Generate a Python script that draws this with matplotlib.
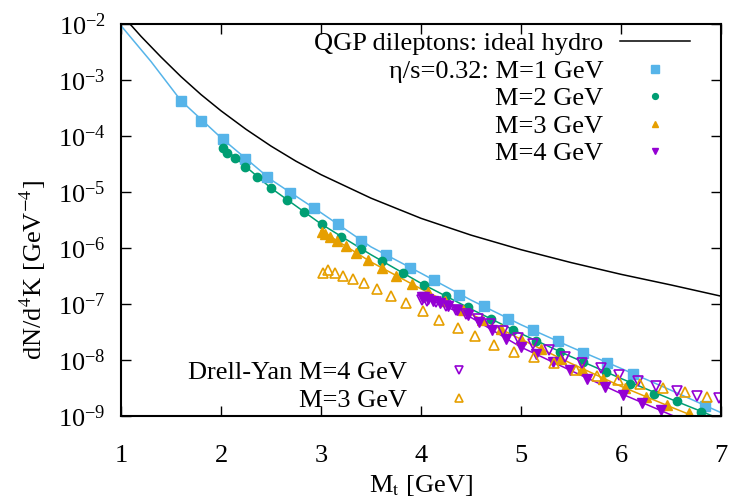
import numpy as np
import matplotlib
matplotlib.use("Agg")
import matplotlib.pyplot as plt
from matplotlib.ticker import NullLocator, FixedLocator

plt.rcParams['font.family'] = ['Liberation Serif', 'DejaVu Serif']
plt.rcParams['mathtext.fontset'] = 'stix'

# ---------------------------------------------------------------
# Data (log10 of dN/d^4K)
# ---------------------------------------------------------------
# ideal hydro QGP dileptons (black curve)
mt_ideal = [1.0, 1.2, 1.4, 1.6, 1.8, 2.0, 2.25, 2.5, 2.75, 3.0, 3.5, 4.0, 4.5, 5.0, 5.5, 6.0, 6.5, 7.0]
lg_ideal = [-1.82, -2.22, -2.59, -2.94, -3.26, -3.55, -3.88, -4.18, -4.45, -4.69, -5.11, -5.47,
            -5.77, -6.03, -6.26, -6.47, -6.66, -6.86]

# eta/s = 0.32 curves
mt_line1 = [1.0, 1.3, 1.6, 2.0, 2.5, 3.0, 3.5, 4.0, 4.5, 5.0, 5.5, 6.0, 6.5, 7.0]
lg_line1 = [-2.03, -2.67, -3.37, -4.03, -4.78, -5.37, -5.98, -6.45, -6.93, -7.37, -7.77, -8.15, -8.54, -8.94]
mt_line2 = [2.0, 2.5, 3.0, 3.5, 4.0, 4.5, 5.0, 5.5, 6.0, 6.5, 7.0]
lg_line2 = [-4.17, -4.93, -5.57, -6.12, -6.63, -7.09, -7.53, -7.94, -8.33, -8.70, -9.06]
mt_line3 = [3.0, 3.5, 4.0, 4.5, 5.0, 5.5, 6.0, 6.5, 7.0]
lg_line3 = [-5.69, -6.25, -6.73, -7.18, -7.63, -8.06, -8.47, -8.84, -9.2]
mt_line4 = [4.0, 4.5, 5.0, 5.5, 6.0, 6.5, 7.0]
lg_line4 = [-6.86, -7.24, -7.77, -8.19, -8.60, -8.98, -9.35]

# eta/s = 0.32 points
mt_m1 = [1.60, 1.80, 2.02, 2.24, 2.46, 2.69, 2.93, 3.17, 3.40, 3.65, 3.89, 4.13, 4.38, 4.63,
         4.87, 5.12, 5.37, 5.62, 5.86, 6.12, 6.84]
lg_m1 = [-3.37, -3.73, -4.05, -4.41, -4.73, -5.02, -5.29, -5.57, -5.87, -6.13, -6.36, -6.57, -6.84,
         -7.04, -7.27, -7.46, -7.66, -7.88, -8.05, -8.25, -8.82]

mt_m2 = [2.02, 2.06, 2.14, 2.24, 2.36, 2.50, 2.66, 2.83, 3.01, 3.20, 3.40, 3.61, 3.82, 4.03, 4.25,
         4.47, 4.70, 4.92, 5.15, 5.39, 5.62, 5.85, 6.09, 6.33, 6.56, 6.80]
lg_m2 = [-4.21, -4.30, -4.40, -4.55, -4.73, -4.93, -5.14, -5.36, -5.58, -5.80, -6.02, -6.23, -6.45,
         -6.66, -6.86, -7.06, -7.27, -7.46, -7.66, -7.85, -8.03, -8.21, -8.42, -8.61, -8.74, -8.92]

mt_m3 = [3.01, 3.04, 3.09, 3.16, 3.25, 3.35, 3.47, 3.61, 3.75, 3.91, 4.07, 4.24, 4.42, 4.61, 4.80,
         5.00, 5.20, 5.40, 5.61, 5.82, 6.04, 6.25, 6.46, 6.68]
lg_m3 = [-5.71, -5.75, -5.80, -5.87, -5.96, -6.09, -6.22, -6.36, -6.50, -6.64, -6.79, -6.95, -7.11,
         -7.28, -7.45, -7.63, -7.81, -7.98, -8.16, -8.34, -8.50, -8.66, -8.81, -8.95]

mt_m4 = [4.01, 4.03, 4.07, 4.12, 4.19, 4.27, 4.36, 4.47, 4.58, 4.71, 4.85, 5.00, 5.15, 5.32, 5.49,
         5.66, 5.84, 6.02, 6.21, 6.40]
lg_m4 = [-6.87, -6.88, -6.91, -6.95, -6.99, -7.04, -7.10, -7.20, -7.32, -7.47, -7.62, -7.77, -7.90,
         -8.04, -8.18, -8.34, -8.48, -8.62, -8.76, -8.90]

# Drell-Yan
mt_dy4 = [4.01, 4.06, 4.15, 4.25, 4.35, 4.45, 4.57, 4.69, 4.82, 4.97, 5.12, 5.28, 5.44, 5.61, 5.80,
          5.98, 6.17, 6.35, 6.56, 6.76, 6.98]
lg_dy4 = [-6.92, -6.94, -6.96, -7.03, -7.11, -7.18, -7.27, -7.36, -7.48, -7.61, -7.71, -7.83, -7.95,
          -8.05, -8.15, -8.26, -8.38, -8.47, -8.56, -8.64, -8.68]

mt_dy3 = [3.02, 3.07, 3.14, 3.22, 3.32, 3.43, 3.56, 3.70, 3.85, 4.02, 4.18, 4.37, 4.54, 4.73, 4.93,
          5.13, 5.33, 5.55, 5.76, 5.97, 6.19, 6.42, 6.64, 6.86]
lg_dy3 = [-6.45, -6.40, -6.44, -6.50, -6.56, -6.63, -6.74, -6.86, -6.99, -7.13, -7.29, -7.43, -7.58,
          -7.73, -7.85, -7.95, -8.06, -8.18, -8.28, -8.36, -8.43, -8.50, -8.58, -8.66]

# gnuplot default colours
c_blue = "#56b4e9"
c_green = "#009e73"
c_orange = "#e69f00"
c_purple = "#9400d3"

FS = 19

# ---------------------------------------------------------------
# Plot
# ---------------------------------------------------------------
fig = plt.figure(figsize=(7.31, 4.98), dpi=100)
ax = fig.add_axes([121 / 731, 82 / 498, 600 / 731, 392 / 498])

h_ideal, = ax.plot(mt_ideal, 10.0 ** np.array(lg_ideal), color="black", lw=1.1,
                   label="QGP dileptons: ideal hydro")

ax.plot(mt_line1, 10.0 ** np.array(lg_line1), color=c_blue, lw=1.1)
ax.plot(mt_line2, 10.0 ** np.array(lg_line2), color=c_green, lw=1.1)
ax.plot(mt_line3, 10.0 ** np.array(lg_line3), color=c_orange, lw=1.1)
ax.plot(mt_line4, 10.0 ** np.array(lg_line4), color=c_purple, lw=1.1)

h1, = ax.plot(mt_m1, 10.0 ** np.array(lg_m1), ls="none", marker="s", ms=7.5, color=c_blue,
              label="η/s=0.32: M=1 GeV")
h2, = ax.plot(mt_m2, 10.0 ** np.array(lg_m2), ls="none", marker="o", ms=6, color=c_green,
              label="M=2 GeV")
h3, = ax.plot(mt_m3, 10.0 ** np.array(lg_m3), ls="none", marker="^", ms=6.5, color=c_orange,
              label="M=3 GeV")
h4, = ax.plot(mt_m4, 10.0 ** np.array(lg_m4), ls="none", marker="v", ms=6.5, color=c_purple,
              label="M=4 GeV")

hd4, = ax.plot(mt_dy4, 10.0 ** np.array(lg_dy4), ls="none", marker="v", ms=7, mfc="none",
               mec=c_purple, mew=1.2, label="Drell-Yan M=4 GeV")
hd3, = ax.plot(mt_dy3, 10.0 ** np.array(lg_dy3), ls="none", marker="^", ms=7, mfc="none",
               mec=c_orange, mew=1.2, label="M=3 GeV")

ax.set_yscale("log")
ax.set_xlim(1, 7)
ax.set_ylim(1e-9, 1e-2)
ax.yaxis.set_major_locator(FixedLocator([1e-9, 1e-8, 1e-7, 1e-6, 1e-5, 1e-4, 1e-3, 1e-2]))
ax.yaxis.set_minor_locator(NullLocator())

ax.tick_params(which="both", direction="in", top=True, right=True, length=7, width=1,
               labelsize=FS)
ax.tick_params(axis="x", pad=21)
ax.tick_params(axis="y", pad=11)
for s in ax.spines.values():
    s.set_linewidth(1.5)

ax.set_xlabel(r"M$_\mathrm{t}$ [GeV]", fontsize=FS)
ax.set_ylabel("dN/d$^4$K [GeV$^{-4}$]", fontsize=FS)
ax.xaxis.set_label_coords(0.5, -0.145)
ax.yaxis.set_label_coords(-0.122, 0.372)

leg_kw = dict(frameon=False, markerfirst=False, fontsize=FS, numpoints=1,
              handlelength=2.65, handletextpad=0.64, labelspacing=0.15,
              borderpad=0, borderaxespad=0,
              loc="upper right", bbox_transform=fig.transFigure)
leg1 = ax.legend(handles=[h_ideal, h1, h2, h3, h4], markerscale=0.7,
                 bbox_to_anchor=(690 / 731, 1 - 32 / 498), **leg_kw)
ax.add_artist(leg1)
ax.legend(handles=[hd4, hd3], markerscale=0.85,
          bbox_to_anchor=(494 / 731, 1 - 361 / 498), **leg_kw)

fig.savefig("out.png", dpi=100)
